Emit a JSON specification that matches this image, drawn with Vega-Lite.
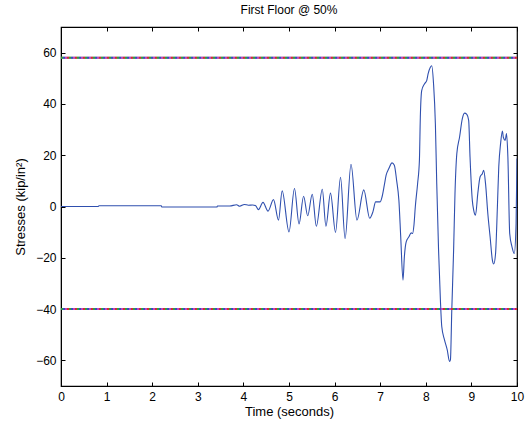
{
  "$schema": "https://vega.github.io/schema/vega-lite/v6.json",
  "width": 456,
  "height": 359,
  "autosize": "none",
  "padding": {"left": 61, "top": 27, "right": 9, "bottom": 41},
  "background": "white",
  "config": {
    "font": "Liberation Sans",
    "view": {"stroke": "black", "strokeWidth": 1.2},
    "axis": {
      "domainColor": "black",
      "tickColor": "black",
      "labelColor": "black",
      "titleColor": "black",
      "labelFontSize": 12,
      "titleFontSize": 13,
      "titleFontWeight": "normal",
      "grid": false,
      "tickSize": -4,
      "tickWidth": 1,
      "labelPadding": 9
    }
  },
  "title": {"text": "First Floor @ 50%", "fontSize": 12, "fontWeight": "normal", "color": "black", "offset": 10},
  "datasets": {
    "signal": [
      {"t": 0, "v": 0}, {"t": 0.82, "v": 0}, {"t": 0.83, "v": 0.3}, {"t": 2.2, "v": 0.3},
      {"t": 2.21, "v": -0.2}, {"t": 3.42, "v": -0.2}, {"t": 3.43, "v": 0.2}, {"t": 3.7, "v": 0.2},
      {"t": 3.85, "v": 0.7}, {"t": 3.92, "v": 0.1}, {"t": 4.02, "v": 0.8}, {"t": 4.11, "v": 0.5},
      {"t": 4.2, "v": 0.6}, {"t": 4.27, "v": 0.3}, {"t": 4.33, "v": -1.2}, {"t": 4.43, "v": 1.6},
      {"t": 4.54, "v": -1.8}, {"t": 4.66, "v": 2.7}, {"t": 4.77, "v": -5.3}, {"t": 4.85, "v": 6.1},
      {"t": 5.0, "v": -9.9}, {"t": 5.12, "v": 7.0}, {"t": 5.22, "v": -6.8}, {"t": 5.32, "v": 4.0},
      {"t": 5.41, "v": -3.6}, {"t": 5.51, "v": 4.8}, {"t": 5.6, "v": -7.7}, {"t": 5.73, "v": 6.7},
      {"t": 5.81, "v": -7.7}, {"t": 5.91, "v": 5.2}, {"t": 6.02, "v": -10.1}, {"t": 6.13, "v": 11.4},
      {"t": 6.23, "v": -12.5}, {"t": 6.36, "v": 16.5}, {"t": 6.49, "v": -5.3}, {"t": 6.64, "v": 6.5},
      {"t": 6.77, "v": -4.6}, {"t": 6.84, "v": -2.1}, {"t": 6.9, "v": 1.8}, {"t": 7.0, "v": 1.8},
      {"t": 7.04, "v": 3.7}, {"t": 7.09, "v": 8.3}, {"t": 7.13, "v": 12.2}, {"t": 7.19, "v": 14.8},
      {"t": 7.26, "v": 17}, {"t": 7.31, "v": 16.1}, {"t": 7.36, "v": 10.2}, {"t": 7.41, "v": 2.4},
      {"t": 7.45, "v": -11.8}, {"t": 7.5, "v": -28.7}, {"t": 7.53, "v": -19.6}, {"t": 7.57, "v": -13.8},
      {"t": 7.63, "v": -11.8}, {"t": 7.68, "v": -10.3}, {"t": 7.71, "v": -10.5}, {"t": 7.74, "v": -7.3},
      {"t": 7.77, "v": -0.1}, {"t": 7.82, "v": 8.9}, {"t": 7.86, "v": 18}, {"t": 7.88, "v": 34.8},
      {"t": 7.91, "v": 45.2}, {"t": 7.97, "v": 47.8}, {"t": 8.02, "v": 49.1}, {"t": 8.05, "v": 51.7},
      {"t": 8.1, "v": 54.3}, {"t": 8.13, "v": 54.9}, {"t": 8.17, "v": 47.8}, {"t": 8.21, "v": 32.3},
      {"t": 8.24, "v": 8.9}, {"t": 8.28, "v": -17}, {"t": 8.32, "v": -36.4}, {"t": 8.35, "v": -46.8},
      {"t": 8.41, "v": -52}, {"t": 8.47, "v": -55.9}, {"t": 8.52, "v": -60.4}, {"t": 8.54, "v": -59.8},
      {"t": 8.57, "v": -40.3}, {"t": 8.61, "v": -17}, {"t": 8.64, "v": 5}, {"t": 8.68, "v": 20.6},
      {"t": 8.74, "v": 27}, {"t": 8.8, "v": 34.2}, {"t": 8.85, "v": 36.4}, {"t": 8.9, "v": 35.9},
      {"t": 8.94, "v": 33.6}, {"t": 8.97, "v": 19.3}, {"t": 9.02, "v": 2.4}, {"t": 9.05, "v": -1.4},
      {"t": 9.09, "v": -3.4}, {"t": 9.14, "v": 5}, {"t": 9.19, "v": 11.5}, {"t": 9.24, "v": 12.8},
      {"t": 9.27, "v": 14.1}, {"t": 9.31, "v": 8.9}, {"t": 9.36, "v": -2.7}, {"t": 9.41, "v": -11.8},
      {"t": 9.46, "v": -20.9}, {"t": 9.49, "v": -22.4}, {"t": 9.53, "v": -18.3}, {"t": 9.57, "v": -0.2},
      {"t": 9.6, "v": 15.4}, {"t": 9.64, "v": 24.5}, {"t": 9.68, "v": 29.4}, {"t": 9.7, "v": 27},
      {"t": 9.74, "v": 25.8}, {"t": 9.77, "v": 28.4}, {"t": 9.8, "v": 19.3}, {"t": 9.84, "v": -10.5},
      {"t": 9.89, "v": -15.7}, {"t": 9.94, "v": -18.3}, {"t": 9.98, "v": -6.6}, {"t": 10.0, "v": 18.7}
    ],
    "limits": [{"v": 58}, {"v": -40}]
  },
  "layer": [
    {
      "data": {"name": "signal"},
      "mark": {"type": "line", "color": "#2f4fae", "strokeWidth": 1.1, "clip": true, "interpolate": "monotone"},
      "encoding": {
        "x": {
          "field": "t", "type": "quantitative",
          "scale": {"domain": [0, 10], "nice": false, "zero": false},
          "axis": {"orient": "bottom", "title": "Time (seconds)", "values": [0,1,2,3,4,5,6,7,8,9,10], "titlePadding": 3, "labelFlush": false}
        },
        "y": {
          "field": "v", "type": "quantitative",
          "scale": {"domain": [-70, 70], "nice": false},
          "axis": {"orient": "left", "title": "Stresses (kip/in²)", "values": [-60,-40,-20,0,20,40,60], "titlePadding": 8}
        }
      }
    },
    {
      "data": {"name": "limits"},
      "mark": {"type": "rule", "color": "#8a8a8a", "strokeWidth": 2},
      "encoding": {
        "y": {"field": "v", "type": "quantitative", "axis": {"orient": "right", "labels": false, "title": null, "values": [-60,-40,-20,0,20,40,60], "domain": false}},
        "x": {"datum": 0, "type": "quantitative", "axis": {"orient": "top", "labels": false, "title": null, "values": [0,1,2,3,4,5,6,7,8,9,10], "domain": false}},
        "x2": {"datum": 10}
      }
    },
    {
      "data": {"name": "limits"},
      "mark": {"type": "rule", "color": "#d03030", "strokeWidth": 2, "strokeDash": [2, 6], "strokeDashOffset": 0},
      "encoding": {"y": {"field": "v", "type": "quantitative", "axis": null}}
    },
    {
      "data": {"name": "limits"},
      "mark": {"type": "rule", "color": "#30a040", "strokeWidth": 2, "strokeDash": [2, 6], "strokeDashOffset": 2},
      "encoding": {"y": {"field": "v", "type": "quantitative", "axis": null}}
    },
    {
      "data": {"name": "limits"},
      "mark": {"type": "rule", "color": "#3050c0", "strokeWidth": 2, "strokeDash": [2, 6], "strokeDashOffset": 4},
      "encoding": {"y": {"field": "v", "type": "quantitative", "axis": null}}
    },
    {
      "data": {"name": "limits"},
      "mark": {"type": "rule", "color": "#c040c0", "strokeWidth": 2, "strokeDash": [2, 6], "strokeDashOffset": 6},
      "encoding": {"y": {"field": "v", "type": "quantitative", "axis": null}}
    }
  ],
  "resolve": {"axis": {"x": "independent", "y": "independent"}}
}
